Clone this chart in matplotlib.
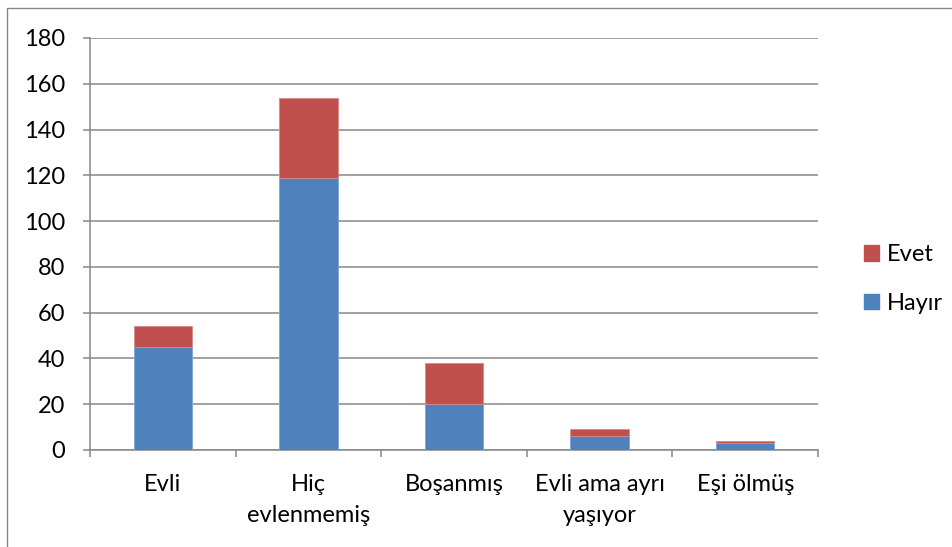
import numpy as np
import matplotlib.pyplot as plt
from matplotlib.patches import Patch, Rectangle

categories = ['Evli', 'Hiç\nevlenmemiş', 'Boşanmış', 'Evli ama ayrı\nyaşıyor', 'Eşi ölmüş']
hayir = [45, 119, 20, 6, 3]
evet = [9, 35, 18, 3, 1]
yticks = [0, 20, 40, 60, 80, 100, 120, 140, 160, 180]

blue = '#4F81BD'
red = '#C0504D'
gray = '#878787'

plt.rcParams['font.family'] = ['Lato', 'DejaVu Sans']

W, H = 953, 547
fig = plt.figure(figsize=(W / 100, H / 100), dpi=100)
ax = fig.add_axes([90 / W, (H - 450) / H, 728 / W, 412 / H])

# outer chart border (only left and top visible)
fig.patches.append(Rectangle((7 / W, -0.1), 1.2, 1.1 - 8 / H,
                             transform=fig.transFigure, fill=False,
                             edgecolor=gray, linewidth=1.0))

x = np.arange(len(categories))
ax.bar(x, hayir, width=0.4, color=blue, edgecolor='#7fa3d6', linewidth=0.6, zorder=3)
ax.bar(x, evet, width=0.4, bottom=hayir, color=red, edgecolor='#d98a88', linewidth=0.6, zorder=3)

ax.set_xlim(-0.5, len(categories) - 0.5)
ax.set_ylim(0, 180)
ax.set_yticks(yticks)
ax.yaxis.grid(True, color=gray, linewidth=1.1, zorder=0)
ax.set_axisbelow(True)

for s in ['top', 'right']:
    ax.spines[s].set_visible(False)
for s in ['left', 'bottom']:
    ax.spines[s].set_color(gray)
    ax.spines[s].set_linewidth(1.1)

fs = 17
ax.tick_params(axis='y', length=5, width=1.1, color=gray, pad=13, labelsize=fs)
ax.set_xticks(x)
ax.set_xticklabels(categories, fontsize=fs, linespacing=1.6)
ax.tick_params(axis='x', length=0, pad=17)
ax.set_xticks(np.arange(-0.5, len(categories)), minor=True)
ax.tick_params(axis='x', which='minor', length=5, width=1.1, color=gray)

handles = [Patch(color=red, label='Evet'), Patch(color=blue, label='Hayır')]
fig.legend(handles=handles, loc='center left', bbox_to_anchor=(843 / W, 1 - 279 / H),
           frameon=False, fontsize=fs, handlelength=0.62, handleheight=0.62,
           handletextpad=0.35, labelspacing=1.15)

fig.savefig('out.png', dpi=100)
